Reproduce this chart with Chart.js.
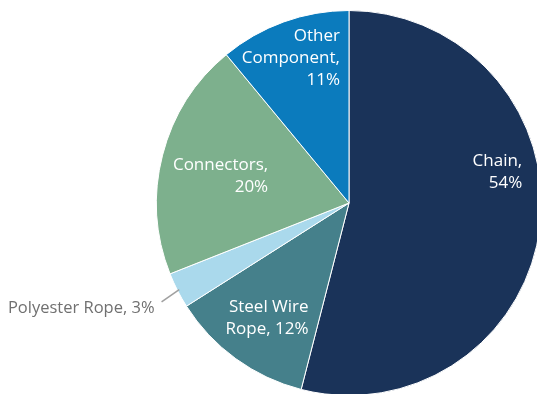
<!DOCTYPE html>
<html>
<head>
<meta charset="utf-8">
<script src="https://cdn.jsdelivr.net/npm/chart.js@4.4.1/dist/chart.umd.min.js"></script>
<style>
  html, body { margin: 0; padding: 0; background: #fff; overflow: hidden; }
  #wrap { position: relative; width: 537px; height: 394px; overflow: hidden; }
  #chart { position: absolute; left: 0; top: 0; }
</style>
</head>
<body>
<div id="wrap"><canvas id="chart" width="698" height="406"></canvas></div>
<script>
// data
var categories = ['Chain', 'Steel Wire Rope', 'Polyester Rope', 'Connectors', 'Other Component'];
var shares = [54, 12, 3, 20, 11];
var colors = ['#1a3359', '#45808b', '#aad9ec', '#7db08d', '#0b7bbd'];

// label text lines, and where each sits relative to the pie (fractions of radius)
var labelLines = [
    ['Chain,', '54%'],
    ['Steel Wire', 'Rope, 12%'],
    ['Polyester Rope, 3%'],
    ['Connectors,', '20%'],
    ['Other', 'Component,', '11%']
];
var labelAnchor = [[0.90, -0.16], [-0.21, 0.60], [-1.01, 0.545], [-0.42, -0.14], [-0.047, -0.755]];
var labelInside = [true, true, false, true, true];

var sliceLabels = {
    id: 'sliceLabels',
    afterDatasetsDraw: function(chart){
        var ctx = chart.ctx;
        var arcs = chart.getDatasetMeta(0).data;
        ctx.save();
        ctx.textAlign = 'right';
        ctx.textBaseline = 'middle';
        arcs.forEach(function(arc, i){
            var r = arc.outerRadius;
            var x = arc.x + labelAnchor[i][0] * r;
            var y = arc.y + labelAnchor[i][1] * r;
            var lines = labelLines[i];
            var lh = 22;
            var y0 = y - (lines.length - 1) * lh / 2;
            if (labelInside[i]) {
                ctx.font = '17px "Open Sans", sans-serif';
                ctx.fillStyle = '#ffffff';
            } else {
                ctx.font = '16.5px "Open Sans", sans-serif';
                ctx.fillStyle = '#707070';
                // leader line to the slice edge
                var mid = (arc.startAngle + arc.endAngle) / 2;
                var ex = arc.x + Math.cos(mid) * r * 0.99;
                var ey = arc.y + Math.sin(mid) * r * 0.99;
                ctx.strokeStyle = '#a0a0a0';
                ctx.lineWidth = 1.5;
                ctx.beginPath();
                ctx.moveTo(x + 7, y - 6);
                ctx.lineTo(ex, ey);
                ctx.stroke();
            }
            lines.forEach(function(t, k){
                ctx.fillText(t, x, y0 + k * lh);
            });
        });
        ctx.restore();
    }
};

var chart = new Chart(document.getElementById('chart').getContext('2d'), {
    type: 'pie',
    data: {
        labels: categories,
        datasets: [{
            data: shares,
            backgroundColor: colors,
            borderColor: '#ffffff',
            borderWidth: 1
        }]
    },
    options: {
        responsive: false,
        animation: false,
        layout: { padding: 10 },
        plugins: {
            legend: { display: false },
            tooltip: { enabled: false }
        }
    },
    plugins: [sliceLabels]
});
</script>
</body>
</html>
